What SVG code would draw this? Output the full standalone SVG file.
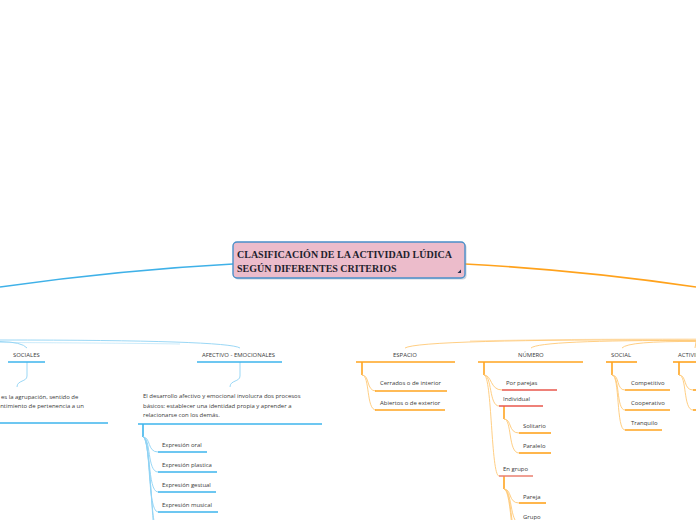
<svg xmlns="http://www.w3.org/2000/svg" width="696" height="520" viewBox="0 0 696 520">
<style>
.t{font-family:"Open Sans","Liberation Sans",sans-serif;font-size:5.95px;fill:#3a3a3a}
.title{font-family:"Liberation Serif",serif;font-weight:bold;font-size:10px;fill:#1f1f2e}
.bl{fill:none;stroke:#3db4ec;stroke-width:1.6}
.blt{fill:none;stroke:#8fd3f4;stroke-width:0.9}
.or{fill:none;stroke:#ffa41f;stroke-width:1.6}
.ort{fill:none;stroke:#ffc875;stroke-width:0.9}
.rd{fill:none;stroke:#e8574c;stroke-width:1.6}
.sm{fill:none;stroke:#ea7f6f;stroke-width:1.6}
</style>
<rect width="696" height="520" fill="#ffffff"/>
<g id="connectors">
  <path d="M233,264 Q120,270 0,287" fill="none" stroke="#3fb1e8" stroke-width="1.6"/>
  <path d="M465,264 Q580,270 696,287" fill="none" stroke="#ffa21c" stroke-width="1.6"/>
  <path class="blt" d="M0,340 Q228,340 240,348"/>
  <path class="blt" d="M0,341.5 Q22,342 27,348"/>
  <path class="blt" d="M0,342.5 Q120,343 180,344" opacity="0.5"/>
  <path class="ort" d="M696,340 Q420,339 405,348"/>
  <path class="ort" d="M696,340.5 Q540,340 531,348"/>
  <path class="ort" d="M696,341.5 Q628,341 622,348"/>
  <path class="ort" d="M696,342 L695,348"/>
  <path class="ort" d="M696,339 Q560,339 470,341" opacity="0.6"/>
  <path class="blt" d="M27,362 L27,376 C27,382 17,380 17,387"/>
  <path class="blt" d="M240,362 L240,376 C240,382 230,380 230,387"/>
  <path class="bl" d="M143,424 L143,437" stroke-width="1.2"/>
  <path class="blt" d="M143,437 C151,437 147,452 158,452"/>
  <path class="blt" d="M143,437 C151,437 147,472 158,472"/>
  <path class="blt" d="M143,437 C151,437 147,492 158,492"/>
  <path class="blt" d="M143,437 C151,437 147,512 158,512"/>
  <path class="blt" d="M143,437 C151,437 150,532 158,532"/>
  <path class="blt" d="M143,437 C151,437 152,552 158,552"/>
  <path class="or" d="M362,362 L362,375" stroke-width="1.1"/>
  <path class="ort" d="M362,375 C370,375 366,391 376,391"/>
  <path class="ort" d="M362,375 C370,375 366,410 376,410"/>
  <path class="or" d="M484,362 L484,375" stroke-width="1.1"/>
  <path class="ort" d="M484,375 C492,375 490,390 502,390"/>
  <path class="ort" d="M484,375 C492,375 489,406 499,406"/>
  <path class="ort" d="M484,375 C492,375 491,476 499,476"/>
  <path class="or" d="M504,406 L504,419" stroke-width="1.1"/>
  <path class="ort" d="M504,419 C512,419 508,433 519,433"/>
  <path class="ort" d="M504,419 C512,419 508,453 519,453"/>
  <path class="or" d="M504,476 L504,489" stroke-width="1.1"/>
  <path class="ort" d="M504,489 C512,489 508,503 519,503"/>
  <path class="ort" d="M504,489 C512,489 510,523 519,523" stroke="#ffb445"/>
  <path class="ort" d="M504,489 C512,489 511,543 519,543" stroke="#ffb445"/>
  <path class="ort" d="M504,489 C512,489 512,563 519,563" stroke="#ffa21f"/>
  <path class="or" d="M612,362 L612,375" stroke-width="1.1"/>
  <path class="ort" d="M612,375 C620,375 616,390 625,390"/>
  <path class="ort" d="M612,375 C620,375 616,410 625,410"/>
  <path class="ort" d="M612,375 C620,375 616,430 625,430"/>
  <path class="or" d="M679,362 L679,375" stroke-width="1.1"/>
  <path class="ort" d="M679,375 C687,375 683,390 693,390"/>
  <path class="ort" d="M679,375 C687,375 683,410 693,410"/>
</g>
<g id="root">
  <rect x="234.5" y="243.5" width="232" height="36" rx="4" fill="#9aa9bd" opacity="0.5"/>
  <rect x="233" y="242" width="232" height="36" rx="4" fill="#ecbccb" stroke="#4a8fc9" stroke-width="1.4"/>
  <text class="title" x="237" y="258">CLASIFICACIÓN DE LA ACTIVIDAD LÚDICA</text>
  <text class="title" x="237" y="272">SEGÚN DIFERENTES CRITERIOS</text>
  <path d="M461,269.5 L461,273 L457.5,273 Z" fill="#1f2d4a"/>
</g>
<g id="sociales">
  <text class="t" x="13" y="357">SOCIALES</text>
  <path class="bl" d="M8,362 H45"/>
</g>
<g id="sociales-desc">
  <text class="t" x="1" y="399">es la agrupación, sentido de</text>
  <text class="t" x="-6" y="408">sentimiento de pertenencia a un</text>
  <path class="bl" d="M0,423 H108"/>
</g>
<g id="afectivo">
  <text class="t" x="202" y="357">AFECTIVO - EMOCIONALES</text>
  <path class="bl" d="M197,362 H282"/>
</g>
<g id="afectivo-desc">
  <text class="t" x="143" y="398">El desarrollo afectivo y emocional involucra dos procesos</text>
  <text class="t" x="143" y="408">básicos: establecer una identidad propia y aprender a</text>
  <text class="t" x="143" y="417">relacionarse con los demás.</text>
  <path class="bl" d="M138,424 H322"/>
</g>
<g id="exp-oral"><text class="t" x="162" y="447">Expresión oral</text><path class="bl" d="M158,452 H207"/></g>
<g id="exp-plastica"><text class="t" x="162" y="467">Expresión plastica</text><path class="bl" d="M158,472 H217"/></g>
<g id="exp-gestual"><text class="t" x="162" y="487">Expresión gestual</text><path class="bl" d="M158,492 H216"/></g>
<g id="exp-musical"><text class="t" x="162" y="507">Expresión musical</text><path class="bl" d="M158,512 H218"/></g>
<g id="espacio">
  <text class="t" x="393" y="357">ESPACIO</text>
  <path class="or" d="M356,362 H455"/>
</g>
<g id="cerrados"><text class="t" x="380" y="385">Cerrados o de interior</text><path class="or" d="M375,391 H447"/></g>
<g id="abiertos"><text class="t" x="380" y="405">Abiertos o de exterior</text><path class="or" d="M375,410 H445"/></g>
<g id="numero">
  <text class="t" x="518" y="357">NÚMERO</text>
  <path class="or" d="M478,362 H583"/>
</g>
<g id="por-parejas"><text class="t" x="506" y="385">Por parejas</text><path class="rd" d="M502,390 H557"/></g>
<g id="individual"><text class="t" x="503" y="401">Individual</text><path class="rd" d="M499,406 H543"/></g>
<g id="solitario"><text class="t" x="523" y="428">Solitario</text><path class="or" d="M519,433 H551"/></g>
<g id="paralelo"><text class="t" x="523" y="448">Paralelo</text><path class="or" d="M519,453 H551"/></g>
<g id="en-grupo"><text class="t" x="503" y="471">En grupo</text><path class="sm" d="M499,476 H533"/></g>
<g id="pareja"><text class="t" x="523" y="499">Pareja</text><path class="or" d="M519,503 H546"/></g>
<g id="grupo"><text class="t" x="523" y="519">Grupo</text></g>
<g id="social">
  <text class="t" x="611" y="357">SOCIAL</text>
  <path class="or" d="M606,362 H637"/>
</g>
<g id="competitivo"><text class="t" x="631" y="385">Competitivo</text><path class="or" d="M625,390 H670"/></g>
<g id="cooperativo"><text class="t" x="631" y="405">Cooperativo</text><path class="or" d="M625,410 H670"/></g>
<g id="tranquilo"><text class="t" x="631" y="425">Tranquilo</text><path class="or" d="M625,430 H662"/></g>
<g id="actividad">
  <text class="t" x="678" y="357">ACTIVIDAD</text>
  <path class="or" d="M673,362 H696"/>
  <path class="or" d="M693,390 H696"/>
  <path class="or" d="M693,410 H696"/>
</g>
</svg>
